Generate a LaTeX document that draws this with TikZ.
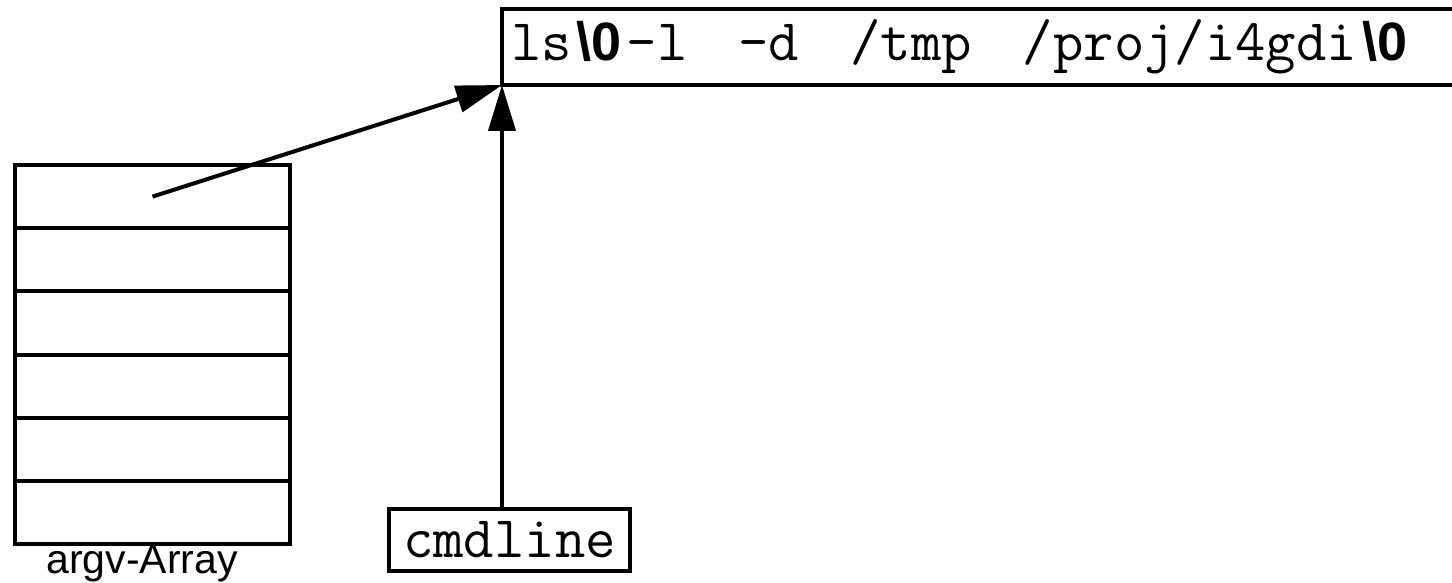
\documentclass[tikz,border=0pt]{standalone}
\usepackage{fontspec}
\setmainfont{Liberation Sans}
\setsansfont{Liberation Sans}
\usetikzlibrary{arrows.meta}
\tikzset{every picture/.style={line width=2pt}}
\tikzset{
  box/.style={draw, inner sep=0pt, outer sep=0pt},
  cell/.style={draw, minimum width=137.5pt, minimum height=#1,
                inner sep=0pt, outer sep=0pt},
  cell/.default={31.6pt}, % height of one argv slot
  ptr/.style={-{Triangle[length=23pt,width=13.5pt]}},
  mono/.style={font=\ttfamily\fontsize{29.5}{29.5}\selectfont},
}
\newcommand{\nul}{{\kern2.5pt\sffamily\bfseries\fontsize{27}{27}\selectfont\textbackslash0\kern2.5pt}}
\newcommand{\gap}{\hspace{25.5pt}} % two blanks between the words
\def\n{6}
\def\h{63.2}

\begin{document}
\begin{tikzpicture}[x=0.5pt, y=-0.5pt]
  \useasboundingbox (0,0) rectangle (1452,583);
  \clip (0,0) rectangle (1452,583);
  % argv slots, stacked from the top
  \foreach \i in {1,...,\n} {
      \node[cell] (c\i) at (152.5, {165+\h*(\i-0.5)}) {};
  };
  \node[font=\fontsize{20.5}{20.5}\selectfont] (lbl) at (142, 564) {argv-Array};
  % string buffer | runs off the right edge
  \node[box, mono, anchor=north west, text width=560pt, align=left,
        minimum height=38pt, inner xsep=4.5pt]
        (str) at (502, 9) {ls\nul-l\gap-d\gap/tmp\gap/proj/i4gdi\nul};
  \node[box, mono, minimum width=120.5pt, minimum height=31pt] (cmd) at (509.5, 540) {cmdline};
  % pointers into the buffer
  \draw[ptr] (c1.center) -- (str.south west);
  \draw[ptr] (cmd.north -| str.south west) -- (str.south west);
\end{tikzpicture}
\end{document}
